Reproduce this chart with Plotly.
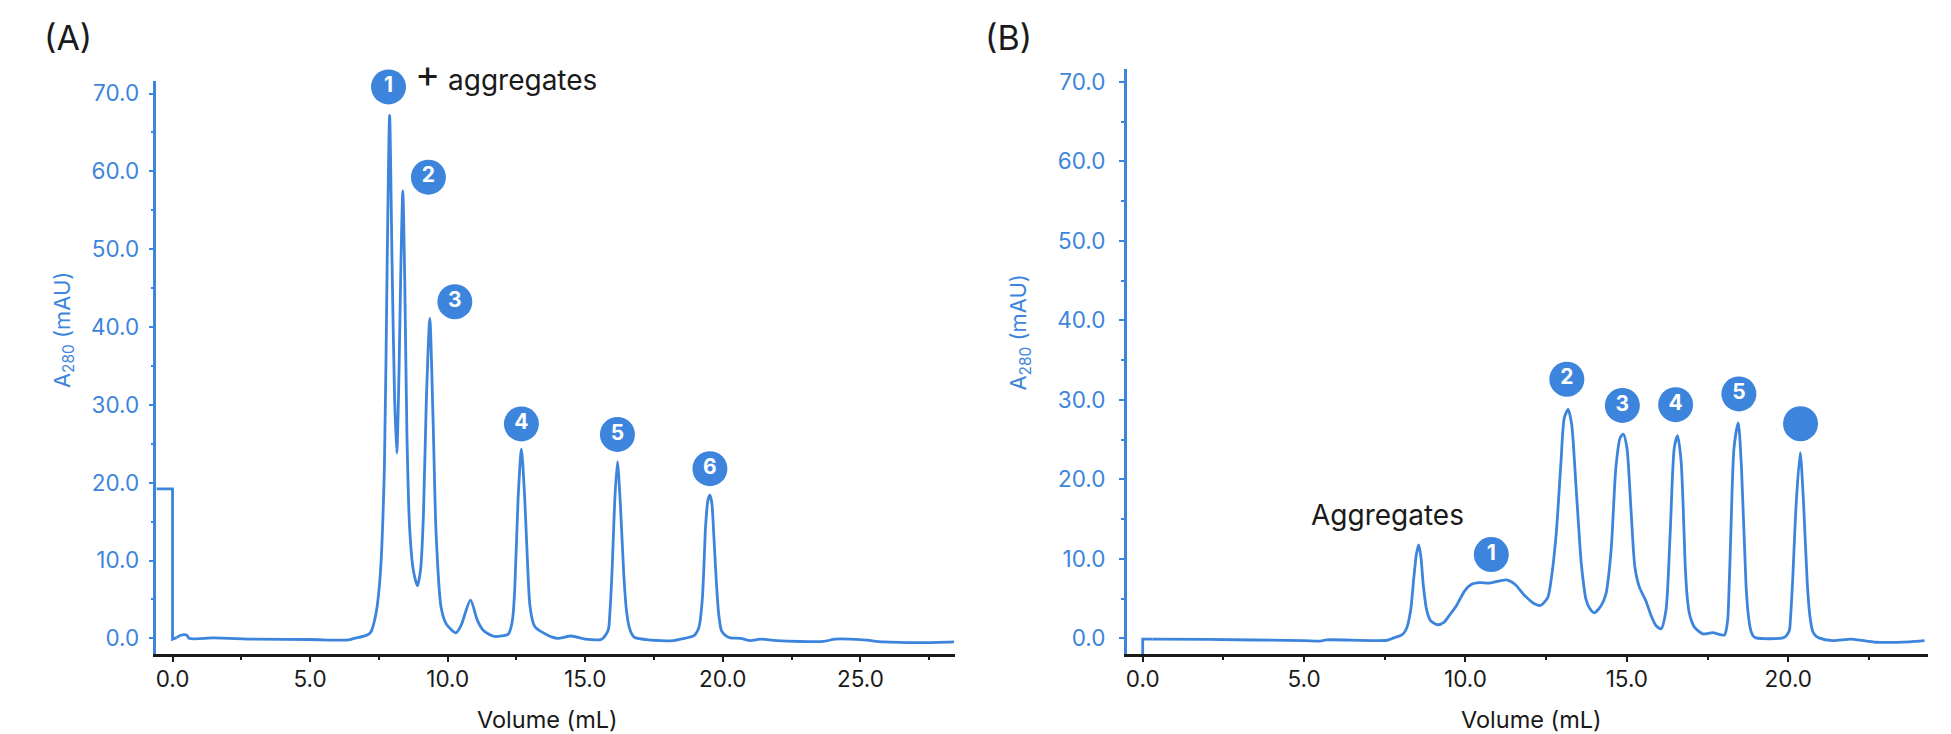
import plotly.graph_objects as go

W, H = 1951, 734
BLUE = "#3d85dc"
INK = "#1a1a1a"
FONT = "Inter"

# Panel A
a_step_x = [-0.585, 0.0, 0.0, 0.15]
a_step_y = [19.2, 19.2, -0.1, 0.1]
a_x = [0.15, 0.3, 0.52, 0.6, 1.5, 3.0, 5.0, 6.4, 6.6, 7.02, 7.2, 7.39, 7.55, 7.7, 7.8, 7.89, 7.98, 8.07, 8.15,
       8.23, 8.3, 8.37, 8.44, 8.52, 8.62, 8.75, 8.9, 9.02, 9.12, 9.22, 9.35, 9.47, 9.58, 9.76, 9.95, 10.3, 10.48,
       10.83, 11.08, 11.3, 11.69, 12.2, 12.3, 12.37, 12.44, 12.56, 12.68, 12.8, 12.92, 12.99, 13.12, 13.22, 13.34,
       13.8, 14.0, 14.5, 15.0, 15.6, 15.83, 15.9, 15.98, 16.07, 16.17, 16.28, 16.4, 16.5, 16.6, 16.7, 16.8, 17.3,
       18.2, 18.47, 18.95, 19.13, 19.25, 19.31, 19.37, 19.46, 19.53, 19.6, 19.67, 19.76, 19.85, 19.95, 20.1, 20.28,
       20.64, 21.0, 21.36, 21.97, 23.66, 24.08, 25.1, 25.83, 27.28, 28.4]
a_y = [0.1, 0.4, 0.4, 0.0, 0.05, -0.1, -0.15, -0.2, 0.0, 0.35, 0.77, 3.1, 8.2, 21.9, 48.0, 67.2, 48.0, 31.0, 23.8,
       34.0, 48.0, 57.5, 46.0, 26.0, 14.0, 8.8, 6.75, 9.0, 16.0, 30.0, 41.1, 28.0, 13.4, 4.0, 1.85, 0.7, 1.6,
       4.9, 2.3, 1.0, 0.25, 0.55, 1.4, 2.8, 6.5, 18.0, 24.3, 18.0, 8.2, 4.2, 1.85, 1.3, 1.0,
       0.15, 0.0, 0.3, -0.1, -0.1, 1.0, 3.6, 9.1, 17.5, 22.7, 17.0, 8.2, 3.5, 1.4, 0.5, 0.1, -0.2,
       -0.3, -0.1, 0.35, 1.4, 4.8, 9.0, 14.2, 17.8, 18.4, 17.4, 13.4, 7.5, 3.1, 1.0, 0.35, 0.05,
       0.0, -0.3, -0.1, -0.3, -0.4, -0.1, -0.2, -0.45, -0.55, -0.45]

# Panel B
b_step_x = [0.0, 0.0, 0.3]
b_step_y = [-2.3, -0.1, -0.1]
b_x = [0.3, 2.0, 5.0, 5.5, 5.7, 7.57, 7.78, 8.04, 8.17, 8.3, 8.4, 8.48, 8.55, 8.62, 8.69, 8.8, 8.92, 9.14, 9.33,
       9.53, 9.72, 9.98, 10.19, 10.44, 10.75, 11.27, 11.53, 11.84, 12.15, 12.34, 12.55, 12.65, 12.81, 12.96, 13.06,
       13.18, 13.29, 13.42, 13.58, 13.66, 13.73, 13.84, 13.99, 14.2, 14.35, 14.51, 14.66, 14.79, 14.89, 15.0, 15.13,
       15.25, 15.39, 15.59, 15.75, 15.9, 16.06, 16.21, 16.34, 16.47, 16.57, 16.68, 16.81, 16.86, 16.93, 17.01, 17.09,
       17.35, 17.66, 18.02, 18.12, 18.16, 18.22, 18.32, 18.45, 18.55, 18.69, 18.76, 18.84, 18.91, 19.0, 19.87, 20.03,
       20.07, 20.13, 20.25, 20.37, 20.47, 20.59, 20.67, 20.75, 20.84, 20.95, 21.38, 21.95, 22.72, 23.75, 24.22]
b_y = [-0.1, -0.15, -0.3, -0.35, -0.2, -0.25, 0.05, 0.45, 1.2, 3.5, 7.65, 10.6, 11.75, 10.2, 6.8, 3.5, 2.2, 1.7, 2.0,
       3.05, 4.1, 6.0, 6.8, 7.0, 6.95, 7.35, 6.8, 5.35, 4.3, 4.15, 5.15, 7.25, 13.1, 22.3, 27.7,
       28.8, 26.9, 19.4, 9.75, 6.8, 4.95, 3.8, 3.2, 4.1, 5.55, 11.0, 21.5, 25.2, 25.7, 24.0, 16.0,
       8.9, 6.4, 4.7, 2.85, 1.6, 1.2, 3.5, 13.1, 24.0, 25.5, 22.3, 8.9, 5.6, 3.25, 2.1, 1.4,
       0.55, 0.7, 0.4, 2.2, 5.5, 13.1, 24.0, 27.1, 21.5, 6.8, 3.0, 0.95, 0.3, 0.05, 0.1, 0.95,
       2.6, 6.8, 17.3, 23.35, 17.3, 6.8, 2.8, 0.95, 0.35, 0.05, -0.3, -0.1, -0.5, -0.45, -0.3]

# Numbered badges
a_labels = ["1", "2", "3", "4", "5", "6"]
a_label_x = [7.85, 9.3, 10.26, 12.68, 16.17, 19.53]
a_label_y = [70.85, 59.25, 43.25, 27.55, 26.2, 21.8]
b_labels = ["1", "2", "3", "4", "5", ""]
b_label_x = [10.8, 13.14, 14.86, 16.51, 18.47, 20.38]
b_label_y = [10.54, 32.6, 29.3, 29.4, 30.75, 27.0]

fig = go.Figure()


def add_panel(step_x, step_y, x, y, lab, lab_x, lab_y, xa, ya):
    line = dict(color=BLUE, width=2.8)
    fig.add_trace(go.Scatter(x=step_x, y=step_y, mode="lines", line=line, xaxis=xa, yaxis=ya,
                             showlegend=False, cliponaxis=False, hoverinfo="skip"))
    fig.add_trace(go.Scatter(x=x, y=y, mode="lines", line=dict(shape="spline", smoothing=0.7, **line),
                             xaxis=xa, yaxis=ya, showlegend=False, cliponaxis=False, hoverinfo="skip"))
    fig.add_trace(go.Scatter(x=lab_x, y=lab_y, mode="markers+text", text=lab, textposition="middle center",
                             marker=dict(color=BLUE, size=35),
                             textfont=dict(color="white", size=21, family=FONT, weight=700),
                             xaxis=xa, yaxis=ya, showlegend=False, cliponaxis=False, hoverinfo="skip"))


add_panel(a_step_x, a_step_y, a_x, a_y, a_labels, a_label_x, a_label_y, "x", "y")
add_panel(b_step_x, b_step_y, b_x, b_y, b_labels, b_label_x, b_label_y, "x2", "y2")


def xaxis(l, r, rng):
    return dict(domain=[l / W, r / W], range=rng, dtick=5, tick0=0, tickformat=".1f", showgrid=False, zeroline=False,
                showline=True, linecolor=INK, linewidth=2.5, ticks="outside", ticklen=5, tickwidth=2, tickcolor=INK,
                ticklabelstandoff=-2,
                minor=dict(dtick=2.5, tick0=0, ticks="outside", ticklen=3, tickwidth=2, tickcolor=INK, showgrid=False),
                tickfont=dict(family=FONT, size=22.5, color=INK), fixedrange=True)


def yaxis(t, b, rng, standoff):
    return dict(domain=[1 - b / H, 1 - t / H], range=rng, dtick=10, tick0=0, tickformat=".1f", showgrid=False,
                zeroline=False, showline=True, linecolor=BLUE, linewidth=2.5, ticks="outside", ticklen=5, tickwidth=2,
                tickcolor=BLUE, ticklabelstandoff=standoff,
                minor=dict(dtick=5, tick0=0, ticks="outside", ticklen=3, tickwidth=2, tickcolor=BLUE, showgrid=False),
                tickfont=dict(family=FONT, size=22.5, color=BLUE), fixedrange=True)


def note(text, px, py, size, color=INK, angle=0):
    return dict(text=text, x=px / W, y=1 - py / H, xref="paper", yref="paper", xanchor="center", yanchor="middle",
                showarrow=False, textangle=angle, font=dict(family=FONT, size=size, color=color))


fig.update_layout(
    width=W, height=H, autosize=False, margin=dict(l=0, r=0, t=0, b=0),
    paper_bgcolor="white", plot_bgcolor="white", showlegend=False,
    xaxis=dict(xaxis(155.5, 954, [-0.585, 28.42]), anchor="y"),
    yaxis=dict(yaxis(79.3, 653.7, [-2.0, 71.6], 5), anchor="x"),
    xaxis2=dict(xaxis(1126.3, 1927.7, [-0.495, 24.32]), anchor="y2"),
    yaxis2=dict(yaxis(66.7, 653.7, [-1.97, 71.7], 9), anchor="x2"),
    annotations=[
        note("(A)", 67, 36, 34),
        note("(B)", 1008, 36, 34),
        note("+", 427, 71, 38),
        note("aggregates", 522, 78, 28),
        note("Aggregates", 1387, 514, 28),
        note("Volume (mL)", 547, 719, 23.5),
        note("Volume (mL)", 1531, 719, 23.5),
        note("A<sub>280</sub> (mAU)", 63, 329, 22, BLUE, -90),
        note("A<sub>280</sub> (mAU)", 1020, 331, 22, BLUE, -90),
    ],
)

fig.write_html("out.html", config=dict(displayModeBar=False),
               post_script="document.body.style.margin='0';document.body.style.overflow='hidden';")
